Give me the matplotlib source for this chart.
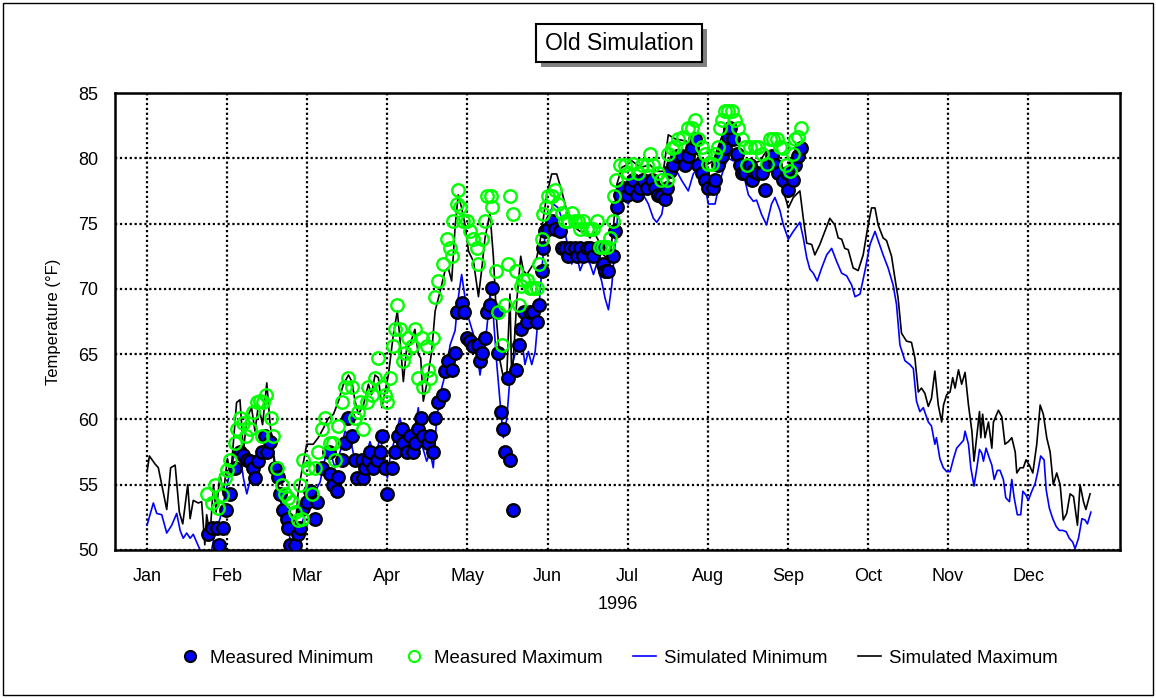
import matplotlib
matplotlib.use("Agg")
import matplotlib.pyplot as plt
from matplotlib.patches import Rectangle
from matplotlib.lines import Line2D

plt.rcParams['font.family'] = ['Liberation Sans', 'DejaVu Sans']

# day of year (0 = Jan 1, 1996) and temperature in deg F
sim_max_day = [0, 0.9, 3, 4.3, 7.5, 9, 10.7, 12.3, 13.6, 15.5, 16.4, 17.6, 19.5, 20.8, 22, 22.7, 24, 25.3,
               26.3, 27.8, 29, 30.6, 31.9, 34.1, 35.4, 36.7, 38, 39.8, 41.1, 42.4, 44, 45.6, 46.8, 48.1,
               49.6, 50.6, 51.9, 53.2, 54.4, 56.3, 57.6, 58.9, 60.8, 63.3, 65.2, 67.1, 69.1, 71, 72.9,
               74.8, 76.7, 78, 79.2, 80.5, 82.4, 84.3, 85.5, 86.8, 88.1, 89.4, 90.6, 91.9, 93.8, 95.3,
               96.3, 97.6, 98.9, 100.1, 102, 103.3, 104.2, 105.2, 106.5, 108.4, 109.7, 111.6, 113.5,
               114.7, 116, 117.3, 118.5, 119.8, 121.1, 122.4, 124.3, 126.2, 127.4, 128.7, 130.6, 131.9,
               133.2, 134.4, 135.7, 137, 138.2, 138.9, 140.8, 142.3, 143.3, 144.6, 146.5, 148.4, 149.7,
               150.9, 152.2, 154.1, 156, 157.9, 159.8, 161.1, 163, 164.9, 166.8, 168.7, 170, 171.9,
               173.8, 175, 176.3, 177.6, 178.9, 180.8, 182.7, 184.6, 188, 191.5, 194, 196.6, 198.5, 201,
               205.5, 210.6, 213.1, 215.6, 218.2, 220.7, 223.3, 225.1, 227.1, 229.6, 233.4, 236, 239.7,
               242.3, 244.2, 246.1, 248.6, 249.9, 251.2, 253.1, 254.3, 256.2, 258.1, 260, 261.9, 263.2,
               264.5, 265.7, 267, 268.9, 270.8, 272.7, 274.6, 275.9, 277.2, 278.4, 280.3, 281.6, 283.5,
               284.8, 286, 287.3, 289.2, 291.1, 292.4, 293.7, 294.9, 296.2, 297.5, 298.7, 300, 301.3,
               302.6, 303.3, 304.5, 305.8, 306.8, 307.7, 309, 310.2, 311.5, 312.8, 314.1, 314.9, 316,
               317, 317.5, 318.2, 319.1, 320.4, 321.7, 322.3, 324.2, 325.5, 326.7, 328, 329.3, 330.6,
               331.2, 332.5, 333.7, 334.7, 336, 337.3, 338.8, 340.1, 341.3, 342.6, 343.9, 345.1, 346.4,
               347.7, 348.9, 350.2, 351.5, 352.8, 354.3, 355.3, 356.6, 357.5, 359.1]
sim_max = [56.0, 57.2, 56.6, 56.3, 53.1, 56.3, 56.5, 52.9, 52.0, 55.0, 52.4, 53.8, 53.6, 53.7, 50.4, 52.7,
           51.2, 55.0, 52.9, 55.8, 54.2, 57.0, 55.8, 61.3, 61.5, 57.5, 60.1, 60.9, 59.1, 61.1, 59.6, 62.8,
           59.8, 57.5, 55.6, 54.0, 53.2, 52.9, 51.9, 51.4, 54.5, 56.0, 58.1, 58.1, 58.6, 59.3, 60.1, 60.4,
           61.4, 62.7, 63.4, 62.9, 61.4, 60.4, 61.1, 62.7, 61.9, 63.4, 63.2, 60.9, 62.1, 63.4, 66.5, 68.3,
           66.2, 62.9, 65.5, 65.7, 66.9, 65.0, 64.7, 61.4, 62.7, 65.2, 68.3, 69.8, 71.4, 71.6, 70.6, 74.7,
           77.2, 76.2, 74.9, 72.9, 72.1, 69.4, 71.4, 73.9, 75.8, 72.4, 67.3, 64.5, 63.2, 63.4, 69.6, 62.7,
           69.1, 72.5, 71.4, 71.1, 71.7, 72.4, 73.7, 75.4, 77.2, 78.8, 78.8, 77.5, 76.0, 75.4, 74.7, 74.4,
           74.4, 73.9, 74.4, 73.7, 72.6, 72.4, 72.6, 74.7, 78.0, 79.3, 79.5, 79.8, 79.3, 79.5, 79.0, 79.0,
           81.8, 81.5, 81.3, 80.0, 79.5, 79.8, 81.3, 82.6, 82.6, 81.0, 79.8, 79.5, 79.8, 80.6, 79.5, 77.5,
           76.2, 77.0, 77.5, 75.4, 73.5, 73.4, 72.6, 73.4, 74.4, 75.4, 74.9, 73.9, 73.8, 73.1, 73.0, 71.6,
           71.4, 72.6, 74.9, 76.2, 76.2, 74.9, 73.9, 73.7, 72.5, 70.8, 69.3, 66.6, 66.0, 65.9, 64.7, 62.1,
           62.4, 62.0, 61.0, 61.6, 63.7, 61.1, 59.8, 61.1, 61.9, 62.1, 63.2, 62.4, 63.8, 62.7, 63.6, 61.1,
           59.1, 56.8, 58.8, 60.6, 58.6, 60.4, 58.6, 59.8, 57.8, 59.8, 60.7, 60.2, 58.1, 58.3, 58.6, 57.5,
           55.9, 56.3, 56.3, 56.9, 56.5, 55.9, 58.1, 61.1, 60.4, 58.6, 57.5, 55.0, 55.9, 55.0, 52.3, 52.8,
           54.3, 54.1, 51.9, 55.0, 53.7, 53.1, 54.3]

sim_min_day = [0, 2.4, 3.7, 5.6, 7.5, 9.4, 11.3, 12.6, 13.8, 15.1, 16.4, 17.6, 18.9, 20.2, 21.3, 23.4, 24.6,
               25.9, 27.8, 29.7, 31.6, 33.5, 35.4, 36.7, 38, 39.8, 41.8, 43.7, 45.6, 47.5, 48.7, 50.6,
               51.9, 53.8, 55.1, 56.3, 58.2, 59.5, 60.8, 63.3, 65.9, 67.8, 69.7, 71.6, 73.5, 75.4, 77.3,
               79.2, 81.1, 83, 84.9, 86.8, 88.7, 90.6, 91.5, 92.5, 94.4, 96.3, 98.2, 100.1, 102, 103.3,
               104.6, 106.5, 107.8, 109, 110.3, 112.2, 114.1, 115.4, 117.3, 118.5, 119.8, 121.1, 122.4,
               124.3, 125.5, 126.8, 128.1, 129.4, 130.6, 131.9, 133.2, 134.4, 135.7, 137, 138.2, 139.5,
               141, 142.7, 143.9, 145.2, 146.5, 147.8, 149, 150.3, 151.6, 152.8, 154.7, 156.6, 157.9,
               159.8, 161.7, 163.6, 164.9, 166.8, 168.7, 170, 171.2, 173.1, 174.4, 175.7, 177, 178.2,
               179.5, 181.4, 183.3, 185.2, 186.4, 189, 190.9, 192.8, 194.1, 196, 197.9, 199.8, 201.7,
               203.6, 206.1, 208, 209.9, 212.5, 213.7, 216.3, 218.2, 220.1, 221.3, 223.3, 225.1, 227.1,
               229, 230.9, 232.1, 234, 235.9, 237.8, 239.1, 241, 242.3, 244.2, 246.1, 248.6, 249.9, 251.2,
               252.4, 253.7, 255.2, 256.9, 258.8, 260.7, 262.6, 264.5, 266.4, 268.3, 269.6, 271.5, 273.4,
               275.3, 277.2, 278.4, 280.3, 282.2, 284.1, 285.4, 286.7, 288.6, 290.5, 291.8, 293, 294.3,
               295.6, 297.5, 298.7, 300, 300.6, 301.9, 303.2, 304.5, 305.8, 307.1, 308.3, 309.6, 310.9,
               311.5, 312.8, 313.7, 314.9, 316, 317, 317.9, 318.5, 319.5, 320.8, 321.7, 322.6, 323.8,
               324.8, 326.1, 327, 328.4, 329.3, 330.2, 331.4, 332.7, 333.5, 334.7, 335.6, 336.9, 338.2,
               339.2, 340.3, 341.6, 342.4, 343.6, 344.9, 346.2, 347.4, 348.7, 350, 351.2, 352.5, 353.4,
               354.7, 356, 357.2, 358.1, 359.4]
sim_min = [51.9, 53.6, 52.8, 52.7, 51.3, 51.9, 52.8, 51.5, 50.9, 51.3, 50.9, 51.2, 50.6, 50.0, 49.0, 49.2,
           50.0, 51.4, 52.4, 54.2, 56.0, 57.5, 57.5, 55.5, 54.3, 55.8, 57.3, 57.8, 57.3, 58.1, 56.3, 54.0,
           52.7, 51.4, 50.4, 50.0, 51.4, 52.4, 52.9, 54.2, 55.2, 57.0, 57.5, 56.3, 57.5, 59.1, 58.6, 56.8,
           56.3, 57.0, 58.3, 57.0, 58.6, 57.0, 55.5, 57.0, 58.6, 60.1, 58.6, 58.1, 59.3, 60.9, 58.1, 56.8,
           57.5, 56.3, 60.1, 62.4, 63.9, 65.7, 66.8, 69.3, 71.1, 69.3, 67.8, 66.5, 65.2, 63.4, 65.2, 67.0,
           69.6, 67.8, 64.2, 61.4, 58.6, 60.1, 63.2, 64.5, 65.7, 66.2, 64.2, 65.2, 64.2, 65.2, 68.0, 71.4,
           74.2, 75.4, 76.5, 76.2, 75.4, 73.7, 71.9, 72.6, 71.4, 72.4, 71.9, 71.1, 71.9, 70.6, 69.3, 68.4,
           70.3, 73.4, 76.2, 76.8, 76.5, 77.6, 77.7, 77.2, 76.5, 75.4, 75.1, 75.7, 78.0, 79.0, 79.0, 78.3,
           77.5, 78.8, 79.3, 78.0, 76.5, 76.5, 78.3, 79.5, 80.0, 79.8, 80.3, 78.8, 77.2, 76.7, 76.8, 75.7,
           74.9, 76.5, 77.0, 76.0, 74.9, 73.8, 74.4, 75.1, 73.9, 72.4, 71.5, 71.2, 70.6, 71.6, 72.6, 73.1,
           72.1, 71.2, 71.0, 70.3, 69.4, 69.6, 71.4, 73.4, 74.4, 73.7, 72.6, 71.6, 70.3, 68.8, 65.7, 64.5,
           64.2, 63.9, 61.4, 60.6, 60.9, 59.8, 59.5, 58.1, 58.6, 57.0, 56.3, 56.0, 56.0, 57.0, 57.8, 58.1,
           58.4, 59.1, 58.1, 56.3, 54.9, 56.3, 57.7, 57.4, 56.8, 57.8, 57.0, 56.5, 55.4, 56.1, 56.1, 55.4,
           54.0, 53.7, 55.4, 54.0, 52.7, 52.7, 54.5, 54.2, 53.8, 54.5, 55.1, 56.0, 57.2, 56.9, 54.6, 53.2,
           52.4, 51.8, 51.5, 51.5, 51.4, 50.9, 50.6, 50.1, 50.9, 52.4, 52.3, 52.0, 52.9]

meas_min_day = [23.4, 24.6, 26.5, 27.4, 28.8, 30.1, 31.6, 33.5, 35.4, 36.7, 38, 39.2, 40.5, 41, 42.4, 43.7,
                44.9, 45.5, 46.8, 48.7, 50, 50.6, 51.9, 53.2, 53.8, 54.4, 56.3, 57.6, 58.3, 59.5, 60.8,
                62.1, 64, 64.6, 66.5, 69.1, 69.7, 71, 72.2, 72.9, 74.1, 75.4, 76.7, 78, 79.2, 79.8, 81.7,
                82.4, 83, 84.3, 84.9, 86.2, 87.4, 88.7, 89.4, 90.6, 91.5, 93.2, 94.4, 95.7, 97, 97.6, 98.9,
                100.1, 101.4, 102, 103.3, 104.2, 105.2, 107.1, 107.8, 109, 109.7, 110.9, 112.8, 113.5,
                114.7, 116, 117.3, 117.9, 119.8, 120.7, 121.7, 123, 124.3, 126.2, 126.8, 127.4, 128.7,
                129.4, 130.6, 131.5, 133.2, 133.8, 134.8, 135.4, 136.3, 137.6, 138.2, 139.5, 140.5, 141.8,
                142.3, 143.6, 144.6, 145.9, 147.1, 148.6, 149.4, 150.3, 150.9, 151.6, 152.8, 154.1, 155.4,
                157.3, 157.9, 159.2, 160.4, 161.1, 163, 163.6, 164.9, 166.2, 167.4, 168.7, 170, 171.9,
                173.8, 174.4, 175.7, 177.3, 178.2, 178.9, 180.1, 181.4, 182.6, 183.9, 185.2, 186.4, 187.7,
                189, 190.2, 192.2, 193.4, 194.7, 195.9, 197.2, 197.9, 199.1, 200.4, 201.7, 203.6, 204.8,
                206.1, 207.4, 208.7, 209.9, 211.2, 212.5, 213.7, 215.6, 216.3, 217.5, 218.8, 220.1, 221.3,
                222, 223.3, 224.5, 225.8, 226.4, 227.7, 229.6, 230.2, 230.9, 232.1, 234, 235.3, 236.6,
                237.8, 239.1, 240.4, 242.3, 243.6, 244.2, 246.1, 246.7, 248, 249.2]
meas_min = [51.2, 51.7, 51.7, 50.4, 51.7, 53.1, 54.3, 56.3, 57.5, 57.3, 56.9, 56.8, 56.3, 55.5, 56.8, 57.5,
            58.7, 57.5, 58.3, 56.3, 55.6, 54.3, 53.1, 52.4, 51.7, 50.4, 50.4, 51.2, 51.7, 53.2, 53.7, 54.5,
            52.4, 53.7, 56.3, 57.5, 55.8, 55.0, 54.5, 55.6, 56.9, 58.2, 60.1, 58.7, 56.9, 55.5, 56.9, 55.5,
            56.3, 56.9, 57.5, 56.3, 56.9, 57.5, 58.7, 56.3, 54.3, 56.3, 57.5, 58.7, 59.3, 58.2, 57.5, 58.7,
            57.5, 58.2, 59.3, 60.1, 58.7, 58.2, 58.7, 57.5, 60.1, 61.3, 61.9, 63.7, 64.5, 63.8, 65.1, 68.2,
            68.9, 68.2, 66.2, 66.0, 65.6, 65.7, 64.5, 65.1, 66.2, 68.2, 68.8, 70.1, 68.2, 65.1, 60.6, 59.3,
            57.5, 63.2, 56.9, 53.1, 63.8, 65.7, 66.9, 68.2, 67.5, 68.2, 68.2, 67.5, 68.8, 71.4, 73.1, 74.4,
            74.6, 75.2, 74.6, 74.4, 73.1, 73.1, 72.5, 73.1, 73.1, 72.5, 73.1, 72.5, 73.1, 73.1, 72.5, 73.1,
            71.9, 71.4, 71.4, 72.5, 74.4, 76.3, 77.2, 77.7, 77.2, 77.7, 78.3, 77.2, 77.7, 78.3, 77.7, 78.3,
            77.7, 77.2, 77.1, 76.9, 77.7, 79.0, 79.5, 80.2, 80.2, 79.5, 80.2, 80.8, 81.5, 79.5, 78.9, 78.3,
            77.7, 77.7, 78.3, 79.5, 80.2, 80.8, 81.6, 82.3, 81.5, 80.3, 79.5, 78.9, 78.9, 79.5, 78.3, 79.0,
            78.9, 78.9, 77.6, 79.5, 80.2, 79.5, 78.9, 78.3, 78.9, 77.6, 78.3, 79.5, 80.2, 80.8]

meas_max_day = [22.7, 24.6, 25.9, 27.2, 28.4, 29.7, 30.6, 31.6, 33.5, 34.1, 35.4, 36.7, 37.7, 39.2, 40.5,
                41.8, 43, 43.7, 44.3, 45.3, 47.1, 47.8, 49.4, 51.3, 52.5, 53.8, 55.1, 56.3, 57.6, 58.3,
                58.9, 59.5, 61.4, 62.7, 64, 65.2, 66.5, 67.8, 69.7, 71, 71.5, 72.9, 74.1, 75.4, 76.7, 78,
                79.2, 80.5, 81.1, 82.4, 83.6, 84.3, 85.5, 86.8, 88.1, 89.4, 90.6, 91.3, 92.5, 93.5, 94.4,
                95.3, 96.3, 97.3, 98.2, 99.5, 100.8, 102, 103.3, 104.6, 105.2, 106.5, 107.1, 107.8, 109,
                109.7, 110.9, 112.8, 114.1, 115.4, 116, 116.6, 118.2, 118.5, 119.2, 120.4, 121.7, 123,
                124.3, 125.5, 126.2, 127.4, 128.7, 129.4, 130.9, 131.5, 132.9, 133.5, 135.1, 136.3, 137.6,
                138.2, 139.5, 140.5, 141.8, 142.3, 143.3, 144.6, 145.9, 147.1, 148.6, 149.4, 150.3, 150.9,
                152, 152.8, 154.1, 155.4, 156.6, 157.9, 159.2, 160.4, 161.7, 163, 164.2, 164.9, 166.2,
                167.4, 168.7, 170, 171.2, 172.5, 173.8, 175, 176.3, 177.3, 177.8, 178.6, 180.1, 182, 183.3,
                185.2, 187.1, 188.4, 190.2, 191.5, 192.8, 194.7, 195.9, 197.9, 198.5, 199.8, 201, 202.3,
                204.2, 206.1, 207.4, 208.7, 209.9, 211.2, 212.5, 213.7, 215, 216.3, 217.5, 218.2, 218.8,
                220.1, 221.3, 222.6, 223.9, 225.1, 226.4, 227.7, 228.3, 229.6, 231.5, 232.8, 234, 236,
                237.2, 238.5, 239.7, 241, 242.3, 243.5, 244.8, 246.1, 246.7, 248, 249.2]
meas_max = [54.3, 53.6, 55.0, 53.2, 54.2, 55.5, 56.1, 56.9, 58.2, 59.3, 60.1, 59.7, 58.7, 59.3, 60.6, 61.3,
            61.4, 58.7, 61.3, 61.9, 60.1, 58.7, 56.3, 55.0, 54.3, 54.0, 53.7, 52.9, 52.3, 55.0, 52.4, 56.9,
            56.3, 54.3, 56.3, 57.5, 59.3, 60.1, 58.2, 58.2, 56.9, 59.5, 61.3, 62.5, 63.2, 62.5, 60.1, 60.6,
            61.3, 59.3, 61.3, 62.5, 61.9, 63.2, 64.7, 62.5, 61.9, 61.3, 63.2, 65.6, 66.9, 68.8, 66.9, 64.5,
            65.1, 66.2, 65.6, 66.9, 63.2, 66.2, 62.5, 65.6, 63.8, 63.2, 66.2, 69.4, 70.6, 71.9, 73.8, 73.1,
            72.5, 75.2, 76.5, 77.6, 76.3, 75.2, 75.2, 74.4, 73.8, 73.1, 71.9, 73.8, 75.2, 77.1, 77.1, 76.3,
            71.4, 68.2, 65.7, 68.8, 71.9, 77.1, 75.7, 71.4, 68.8, 70.2, 70.7, 70.7, 70.1, 70.1, 70.1, 71.9,
            73.8, 75.7, 76.3, 77.1, 77.1, 77.6, 76.5, 75.8, 75.2, 75.2, 75.8, 75.2, 75.2, 74.6, 75.2, 74.6,
            74.6, 74.6, 75.2, 73.2, 73.2, 73.2, 73.9, 75.2, 77.1, 78.3, 79.5, 79.5, 78.9, 79.6, 78.9, 79.5,
            79.5, 80.3, 79.5, 78.9, 78.3, 78.3, 80.3, 80.8, 80.9, 81.5, 81.6, 82.3, 82.3, 82.9, 81.5, 80.9,
            80.3, 79.6, 79.6, 80.3, 80.9, 82.3, 82.9, 83.6, 83.6, 83.6, 82.9, 82.3, 81.5, 80.9, 79.5, 80.9,
            80.9, 80.9, 80.3, 79.6, 81.5, 81.5, 81.5, 80.9, 80.8, 79.5, 79.0, 80.3, 81.5, 81.6, 82.3]

months = ['Jan', 'Feb', 'Mar', 'Apr', 'May', 'Jun', 'Jul', 'Aug', 'Sep', 'Oct', 'Nov', 'Dec']
month_pos = [30.5 * i for i in range(12)]

fig = plt.figure(figsize=(11.56, 6.98), dpi=100)
ax = fig.add_axes([115 / 1156, 1 - 550 / 698, 1005 / 1156, 457 / 698])

ax.plot(sim_min_day, sim_min, color='#0000ff', lw=1.2, zorder=2)
ax.plot(sim_max_day, sim_max, color='black', lw=1.2, zorder=2)
ax.plot(meas_min_day, meas_min, 'o', ms=9, mfc='#0000ff', mec='black', mew=1.7, zorder=3)
ax.plot(meas_max_day, meas_max, 'o', ms=9, mfc='none', mec='#00ff00', mew=1.7, zorder=4)

ax.set_xlim(-12.2, 370.5)
ax.set_ylim(50, 85)
ax.set_yticks(range(50, 90, 5))
ax.set_xticks(month_pos)
ax.set_xticklabels(months)
ax.tick_params(length=0, labelsize=13)
ax.tick_params(axis='x', pad=13)
ax.tick_params(axis='y', pad=12)
ax.grid(True, color='black', ls=(0, (1, 1.2)), lw=1.6)
for s in ax.spines.values():
    s.set_linewidth(1.8)
ax.set_xlabel('1996', fontsize=13, labelpad=8)
ax.set_ylabel('Temperature (\u00b0F)', fontsize=12, labelpad=12)

# title box with drop shadow
W, H = 1156, 698
fig.patches.append(Rectangle((541 / W, 1 - 67 / H), 166 / W, 38 / H, transform=fig.transFigure,
                             facecolor='#808080', edgecolor='none', zorder=1))
fig.patches.append(Rectangle((536 / W, 1 - 62 / H), 166 / W, 38 / H, transform=fig.transFigure,
                             facecolor='white', edgecolor='black', lw=1.5, zorder=2))
fig.text(619 / W, 1 - 43 / H, 'Old Simulation', ha='center', va='center', fontsize=16.5, zorder=3)

# outer frame
fig.patches.append(Rectangle((3 / W, 3 / H), 1150 / W, 692 / H, transform=fig.transFigure,
                             facecolor='none', edgecolor='black', lw=1))

handles = [
    Line2D([], [], ls='none', marker='o', ms=8, mfc='#0000ff', mec='black', mew=1.5),
    Line2D([], [], ls='none', marker='o', ms=8, mfc='none', mec='#00ff00', mew=1.5),
    Line2D([], [], color='#0000ff', lw=1.2),
    Line2D([], [], color='black', lw=1.2),
]
labels = ['Measured Minimum', 'Measured Maximum', 'Simulated Minimum', 'Simulated Maximum']
fig.legend(handles, labels, loc='center', bbox_to_anchor=(618 / W, 1 - 658 / H), ncol=4,
           frameon=False, fontsize=13.4, handlelength=1.25, handletextpad=0.45, columnspacing=1.6)

fig.savefig('out.png', dpi=100)
